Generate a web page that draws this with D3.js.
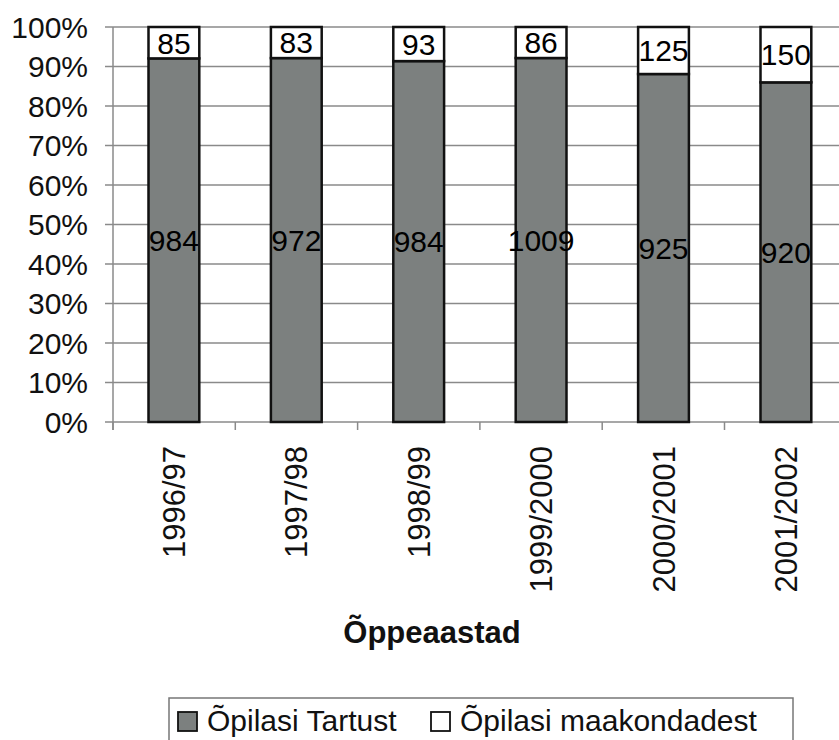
<!DOCTYPE html>
<html><head><meta charset="utf-8">
<script src="https://cdn.jsdelivr.net/npm/d3@7"></script>
<style>body{margin:0;background:#fff;}svg{display:block;}</style>
</head><body>
<svg id="c" width="839" height="740"></svg>
<script>
const categories = ["1996/97","1997/98","1998/99","1999/2000","2000/2001","2001/2002"];
const tartust = [984, 972, 984, 1009, 925, 920];
const maakond = [85, 83, 93, 86, 125, 150];
const yTicks = [0,0.1,0.2,0.3,0.4,0.5,0.6,0.7,0.8,0.9,1.0];
const seriesNames = ["Õpilasi Tartust", "Õpilasi maakondadest"];

(function(){
const svg = d3.select("#c");
const font = "Arial, 'Liberation Sans', sans-serif";
const pLeft = 113, pTop = 27, pBottom = 422, step = 122.3;
const x = d3.scaleBand().domain(categories).range([pLeft, pLeft + step*categories.length]).paddingInner(0.585).paddingOuter(0.29);
const y = d3.scaleLinear().domain([0,1]).range([pBottom, pTop]);

svg.append("g").selectAll("line").data(yTicks).join("line")
  .attr("x1", pLeft-8).attr("x2", 839).attr("y1", d=>y(d)).attr("y2", d=>y(d))
  .attr("stroke", "#8a8a8a").attr("stroke-width", 1.5);
svg.append("line").attr("x1", pLeft).attr("x2", pLeft).attr("y1", pTop).attr("y2", pBottom+8)
  .attr("stroke", "#8a8a8a").attr("stroke-width", 1.5);
const xb = d3.range(categories.length+1).map(i => pLeft + i*step);
svg.append("g").selectAll("line").data(xb).join("line")
  .attr("x1", d=>d).attr("x2", d=>d).attr("y1", pBottom).attr("y2", pBottom+8)
  .attr("stroke", "#8a8a8a").attr("stroke-width", 1.5);

svg.append("g").selectAll("text").data(yTicks).join("text")
  .attr("x", 88).attr("y", d=>y(d)).attr("dy", "0.36em")
  .attr("text-anchor", "end").attr("font-family", font).attr("font-size", 30).attr("fill", "#111")
  .text(d3.format(".0%"));

const data = categories.map((c,i)=>({c, a:tartust[i], b:maakond[i], t:tartust[i]+maakond[i]}));
const g = svg.append("g");
data.forEach(d=>{
  const pa = d.a/d.t;
  g.append("rect").attr("x", x(d.c)).attr("width", x.bandwidth())
    .attr("y", y(pa)).attr("height", y(0)-y(pa))
    .attr("fill", "#7c807f").attr("stroke", "#111").attr("stroke-width", 2.5);
  g.append("rect").attr("x", x(d.c)).attr("width", x.bandwidth())
    .attr("y", y(1)).attr("height", y(pa)-y(1))
    .attr("fill", "#fff").attr("stroke", "#111").attr("stroke-width", 2.5);
  g.append("text").attr("x", x(d.c)+x.bandwidth()/2).attr("y", y(pa/2)).attr("dy","0.36em")
    .attr("text-anchor","middle").attr("font-family", font).attr("font-size", 30).attr("fill","#000").text(d.a);
  g.append("text").attr("x", x(d.c)+x.bandwidth()/2).attr("y", y((1+pa)/2)).attr("dy","0.36em")
    .attr("text-anchor","middle").attr("font-family", font).attr("font-size", 30).attr("fill","#000").text(d.b);
});

svg.append("g").selectAll("text").data(categories).join("text")
  .attr("transform", d=>`translate(${x(d)+x.bandwidth()/2+11},${pBottom+24}) rotate(-90)`)
  .attr("text-anchor","end").attr("font-family", font).attr("font-size", 31).attr("fill","#111")
  .text(d=>d);

svg.append("text").attr("x", 432).attr("y", 643).attr("text-anchor","middle")
  .attr("font-family", font).attr("font-weight","bold").attr("font-size", 31).attr("fill","#111")
  .text("Õppeaastad");

const lg = svg.append("g");
lg.append("rect").attr("x", 169).attr("y", 698).attr("width", 624).attr("height", 60)
  .attr("fill","#fff").attr("stroke","#777").attr("stroke-width",1.5);
const lx = [178, 431];
seriesNames.forEach((s,i)=>{
  lg.append("rect").attr("x", lx[i]).attr("y", 712).attr("width", 19).attr("height", 19)
    .attr("fill", i===0 ? "#7c807f" : "#fff").attr("stroke","#111").attr("stroke-width",1.8);
  lg.append("text").attr("x", lx[i]+29).attr("y", 731).attr("font-family", font).attr("font-size", 30)
    .attr("fill","#111").text(s);
});
})();
</script>
</body></html>
